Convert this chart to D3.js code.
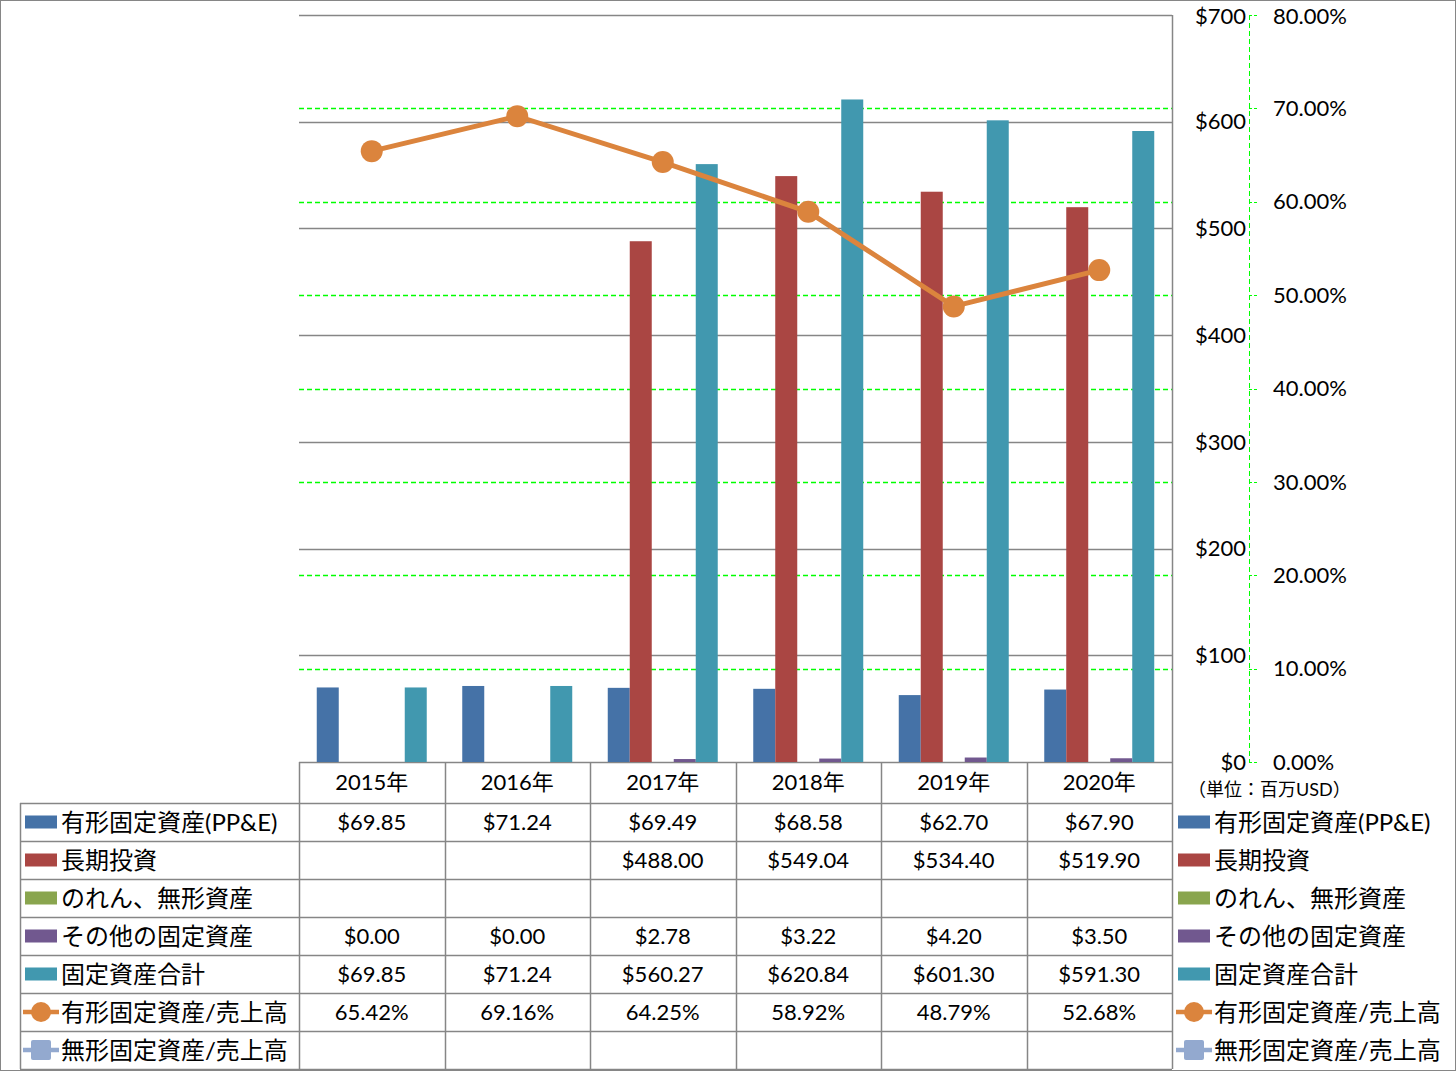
<!DOCTYPE html>
<html><head><meta charset="utf-8">
<script src="https://cdn.jsdelivr.net/npm/d3@7"></script>
<style>body{margin:0;background:#fff}svg{display:block}text{font-family:Lato,"Noto Sans CJK JP","Noto Sans",sans-serif;fill:#000}</style>
</head><body><svg id="c" width="1456" height="1071"></svg>
<script>
const years = ["2015年","2016年","2017年","2018年","2019年","2020年"];
const seriesNames = ["有形固定資産(PP&E)","長期投資","のれん、無形資産","その他の固定資産","固定資産合計"];
const ppe = [69.85,71.24,69.49,68.58,62.70,67.90];
const longInv = [null,null,488.00,549.04,534.40,519.90];
const goodwill = [null,null,null,null,null,null];
const otherFixed = [0.00,0.00,2.78,3.22,4.20,3.50];
const totalFixed = [69.85,71.24,560.27,620.84,601.30,591.30];
const lineNames = ["有形固定資産/売上高","無形固定資産/売上高"];
const ppeRatio = [65.42,69.16,64.25,58.92,48.79,52.68];
const intangRatio = [null,null,null,null,null,null];
const leftTicks = [0,100,200,300,400,500,600,700];
const rightTicks = [0,10,20,30,40,50,60,70,80];
const unitLabel = "（単位：百万USD）";
const barColors = ["#4572A7","#AA4643","#89A54E","#71588F","#4198AF"];
const lineColors = ["#DB843D","#93A9CF"];

const barSeries = [ppe,longInv,goodwill,otherFixed,totalFixed];
const svg = d3.select("#c");
const L=299,R=1172,T=15,B=762;
const x = d3.scaleBand().domain(years).range([L,R]).padding(0);
const xi = d3.scaleBand().domain(d3.range(5)).range([0,x.bandwidth()]).paddingInner(0).paddingOuter(0.807);
const y = d3.scaleLinear().domain([0,700]).range([B,T]);
const y2 = d3.scaleLinear().domain([0,80]).range([B,T]);
const grid="#868686", green="#00FF00";
const numFS = 22, nameFS = 24;

svg.append("rect").attr("x",0.5).attr("y",0.5).attr("width",1455).attr("height",1070).attr("fill","none").attr("stroke",grid);

// secondary gridlines (green dashed)
svg.append("g").selectAll("line").data(rightTicks.filter(d=>d>0&&d<80)).join("line")
 .attr("x1",L).attr("x2",R).attr("y1",d=>Math.round(y2(d))+0.5).attr("y2",d=>Math.round(y2(d))+0.5)
 .attr("stroke",green).attr("stroke-width",1.3).attr("stroke-dasharray","5,3");
// primary gridlines
svg.append("g").selectAll("line").data(leftTicks).join("line")
 .attr("x1",L).attr("x2",R).attr("y1",d=>Math.round(y(d))+0.5).attr("y2",d=>Math.round(y(d))+0.5)
 .attr("stroke",grid).attr("stroke-width",1.5);
svg.append("line").attr("x1",R+0.5).attr("x2",R+0.5).attr("y1",T).attr("y2",B).attr("stroke",grid).attr("stroke-width",1.5);

// bars
barSeries.forEach((s,i)=>{
  svg.append("g").selectAll("rect").data(s.map((v,j)=>({v,j})).filter(d=>d.v!=null&&d.v>0)).join("rect")
   .attr("x",d=>x(years[d.j])+xi(i)).attr("width",xi.bandwidth())
   .attr("y",d=>y(d.v)).attr("height",d=>B-y(d.v)).attr("fill",barColors[i]);
});

// line
const lineGen = d3.line().defined(d=>d.v!=null).x(d=>x(years[d.j])+x.bandwidth()/2).y(d=>y2(d.v));
const pr = ppeRatio.map((v,j)=>({v,j}));
svg.append("path").datum(pr).attr("d",lineGen).attr("fill","none").attr("stroke",lineColors[0]).attr("stroke-width",5);
svg.append("g").selectAll("circle").data(pr.filter(d=>d.v!=null)).join("circle")
 .attr("cx",d=>x(years[d.j])+x.bandwidth()/2).attr("cy",d=>y2(d.v)).attr("r",11).attr("fill",lineColors[0]);

// primary ($) axis labels on right
svg.append("g").selectAll("text").data(leftTicks).join("text")
 .attr("x",1246).attr("y",d=>Math.max(y(d),16)).attr("dy","0.35em").attr("text-anchor","end").attr("font-size",numFS)
 .text(d=>"$"+d);
// secondary axis
svg.append("line").attr("x1",1249.5).attr("x2",1249.5).attr("y1",T).attr("y2",B).attr("stroke",green).attr("stroke-dasharray","5,3");
svg.append("g").selectAll("line").data(rightTicks).join("line")
 .attr("x1",1249).attr("x2",1257).attr("y1",d=>Math.round(y2(d))+0.5).attr("y2",d=>Math.round(y2(d))+0.5)
 .attr("stroke",green).attr("stroke-dasharray","3,2");
svg.append("g").selectAll("text").data(rightTicks).join("text")
 .attr("x",1273).attr("y",d=>Math.max(y2(d),16)).attr("dy","0.35em").attr("font-size",numFS)
 .text(d=>d.toFixed(2)+"%");
svg.append("text").attr("x",1188).attr("y",790).attr("dy","0.35em").attr("font-size",18).text(unitLabel);

// data table
const rowH=38, hdrTop=762, hdrBot=803;
const tbl = svg.append("g");
x.domain().concat([null]).forEach((yr,k)=>{
  const xx = k<years.length? x(yr): R;
  tbl.append("line").attr("x1",Math.round(xx)+0.5).attr("x2",Math.round(xx)+0.5).attr("y1",hdrTop).attr("y2",hdrBot+rowH*7).attr("stroke",grid).attr("stroke-width",1.5);
});
tbl.append("line").attr("x1",20.5).attr("x2",20.5).attr("y1",hdrBot).attr("y2",hdrBot+rowH*7).attr("stroke",grid).attr("stroke-width",1.5);
d3.range(8).forEach(r=>{
  tbl.append("line").attr("x1",20).attr("x2",R).attr("y1",hdrBot+r*rowH+0.5).attr("y2",hdrBot+r*rowH+0.5).attr("stroke",grid).attr("stroke-width",1.5);
});
tbl.selectAll("text.yr").data(years).join("text").attr("class","yr")
 .attr("x",d=>x(d)+x.bandwidth()/2).attr("y",(hdrTop+hdrBot)/2).attr("dy","0.35em").attr("text-anchor","middle").attr("font-size",22).text(d=>d);

const fmt$ = v=> v==null? "" : "$"+v.toFixed(2);
const fmtP = v=> v==null? "" : v.toFixed(2)+"%";
const rows = [
 {name:seriesNames[0],vals:ppe.map(fmt$),kind:"bar",c:barColors[0]},
 {name:seriesNames[1],vals:longInv.map(fmt$),kind:"bar",c:barColors[1]},
 {name:seriesNames[2],vals:goodwill.map(fmt$),kind:"bar",c:barColors[2]},
 {name:seriesNames[3],vals:otherFixed.map(fmt$),kind:"bar",c:barColors[3]},
 {name:seriesNames[4],vals:totalFixed.map(fmt$),kind:"bar",c:barColors[4]},
 {name:lineNames[0],vals:ppeRatio.map(fmtP),kind:"circle",c:lineColors[0]},
 {name:lineNames[1],vals:intangRatio.map(fmtP),kind:"square",c:lineColors[1]}
];
function key(g,kx,cy,r){
  if(r.kind==="bar"){
    g.append("rect").attr("x",kx).attr("y",cy-6.5).attr("width",32).attr("height",13).attr("fill",r.c);
  } else {
    g.append("line").attr("x1",kx-2).attr("x2",kx+34).attr("y1",cy).attr("y2",cy).attr("stroke",r.c).attr("stroke-width",4.5);
    if(r.kind==="circle") g.append("circle").attr("cx",kx+16).attr("cy",cy).attr("r",10).attr("fill",r.c);
    else g.append("rect").attr("x",kx+6).attr("y",cy-10).attr("width",20).attr("height",20).attr("rx",2).attr("fill",r.c);
  }
}
rows.forEach((r,i)=>{
  const cy = hdrBot + i*rowH + rowH/2;
  key(tbl,25,cy,r);
  tbl.append("text").attr("x",61).attr("y",cy).attr("dy","0.36em").attr("font-size",nameFS).text(r.name);
  r.vals.forEach((v,j)=>{
    tbl.append("text").attr("x",x(years[j])+x.bandwidth()/2).attr("y",cy).attr("dy","0.36em").attr("text-anchor","middle").attr("font-size",numFS).text(v);
  });
  key(tbl,1178,cy,r);
  tbl.append("text").attr("x",1214).attr("y",cy).attr("dy","0.36em").attr("font-size",nameFS).text(r.name);
});
</script></body></html>
